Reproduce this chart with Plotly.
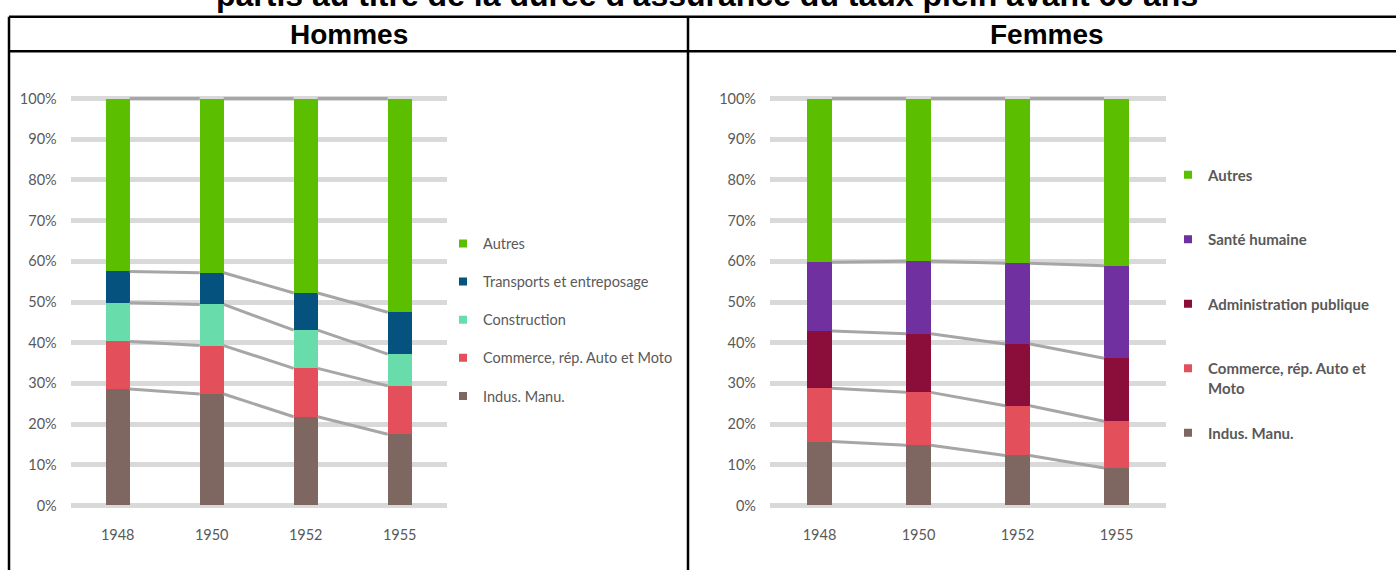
import plotly.graph_objects as go

W, H = 1396, 574

years = ["1948", "1950", "1952", "1955"]

# Hommes (share in %)
h_indus = [28.6, 27.4, 21.8, 17.5]
h_commerce = [11.7, 11.9, 11.9, 11.9]
h_construction = [9.5, 10.1, 9.4, 7.8]
h_transports = [7.7, 7.8, 9.1, 10.3]
h_autres = [42.5, 42.8, 47.8, 52.5]

# Femmes (share in %)
f_indus = [15.7, 14.8, 12.3, 9.2]
f_commerce = [13.1, 13.0, 12.2, 11.5]
f_admin = [14.1, 14.4, 15.2, 15.5]
f_sante = [16.9, 17.8, 19.8, 22.7]
f_autres = [40.2, 40.0, 40.5, 41.1]

C_AUTRES = "#5BBF00"
C_TRANSP = "#05527F"
C_CONSTR = "#69DCAC"
C_COMM = "#E34F5B"
C_INDUS = "#7F6761"
C_SANTE = "#7030A0"
C_ADMIN = "#8B0E3A"
C_CONN = "#A6A6A6"
C_GRID = "#D9D9D9"
C_TXT = "#595959"

def px_x(x):
    return x / W

def px_y(y):
    return 1 - y / H

fig = go.Figure()

xs = list(range(len(years)))

def add_panel(series, xa, ya, legend, bw):
    # series: list of (name, values, color, legendname) bottom->top
    cum = [0.0] * len(xs)
    tops = []
    for name, vals, color, lname in series:
        fig.add_trace(go.Bar(
            x=xs, y=vals, name=lname, marker=dict(color=color, line=dict(width=0)),
            width=bw, xaxis=xa, yaxis=ya, showlegend=False, hoverinfo="skip"))
        cum = [c + v for c, v in zip(cum, vals)]
        tops.append(list(cum))
    # connector lines
    for top in tops:
        lx, ly = [], []
        for i in range(len(xs) - 1):
            lx += [xs[i] + bw / 2, xs[i + 1] - bw / 2, None]
            ly += [top[i], top[i + 1], None]
        fig.add_trace(go.Scatter(x=lx, y=ly, mode="lines", line=dict(color=C_CONN, width=3),
                                 xaxis=xa, yaxis=ya, showlegend=False, hoverinfo="skip"))
    # legend entries (top -> bottom order)
    for name, vals, color, lname in reversed(series):
        lg = legend(name)
        fig.add_trace(go.Scatter(x=[None], y=[None], mode="markers", name=lname,
                                 marker=dict(symbol="square", size=8, color=color),
                                 xaxis=xa, yaxis=ya, legend=lg, legendgroup=lg + name,
                                 showlegend=True))

hommes = [
    ("indus", h_indus, C_INDUS, "Indus. Manu."),
    ("commerce", h_commerce, C_COMM, "Commerce, rép. Auto et Moto"),
    ("construction", h_construction, C_CONSTR, "Construction"),
    ("transports", h_transports, C_TRANSP, "Transports et entreposage"),
    ("autres", h_autres, C_AUTRES, "Autres"),
]
femmes = [
    ("indus", f_indus, C_INDUS, "Indus. Manu."),
    ("commerce", f_commerce, C_COMM, "Commerce, rép. Auto et<br>Moto"),
    ("admin", f_admin, C_ADMIN, "Administration publique"),
    ("sante", f_sante, C_SANTE, "Santé humaine"),
    ("autres", f_autres, C_AUTRES, "Autres"),
]

add_panel(hommes, "x", "y", lambda n: "legend", 0.255)
add_panel(femmes, "x2", "y2", lambda n: "legend3" if n == "indus" else "legend2", 0.25)

ydom = [px_y(512.6), px_y(90.9)]
tickfont = dict(family="Lato, 'Liberation Sans Narrow', sans-serif", size=14.5, color=C_TXT)

yax = dict(range=[-1, 101], dtick=10, ticksuffix="%", showgrid=True, gridcolor=C_GRID,
           gridwidth=4.5, zeroline=False, showline=False, ticks="", tickfont=tickfont,
           ticklabelstandoff=13, domain=ydom, fixedrange=True)
xax_common = dict(range=[-0.5, 3.5], tickvals=xs, ticktext=years, showgrid=False,
                  zeroline=False, showline=False, ticks="", tickfont=tickfont,
                  ticklabelstandoff=15, fixedrange=True)

fig.update_layout(
    width=W, height=H,
    margin=dict(l=0, r=0, t=0, b=0),
    paper_bgcolor="white", plot_bgcolor="white",
    barmode="stack",
    showlegend=True,
    xaxis=dict(domain=[px_x(70.7), px_x(446.7)], anchor="y", **xax_common),
    xaxis2=dict(domain=[px_x(770), px_x(1166)], anchor="y2", **xax_common),
    yaxis=dict(anchor="x", **yax),
    yaxis2=dict(anchor="x2", **yax),
    legend=dict(x=px_x(443), y=px_y(226), xanchor="left", yanchor="top",
                traceorder="grouped", tracegroupgap=16.3, bgcolor="rgba(0,0,0,0)",
                font=dict(family="Lato, sans-serif", size=14.5, color=C_TXT)),
    legend2=dict(x=px_x(1168), y=px_y(156), xanchor="left", yanchor="top",
                 traceorder="grouped", tracegroupgap=42, valign="top", bgcolor="rgba(0,0,0,0)",
                 font=dict(family="Lato, sans-serif", size=15, color=C_TXT, weight="bold")),
    legend3=dict(x=px_x(1168), y=px_y(418), xanchor="left", yanchor="top",
                 bgcolor="rgba(0,0,0,0)",
                 font=dict(family="Lato, sans-serif", size=15, color=C_TXT, weight="bold")),
)

# table frame
line = dict(color="black", width=2.5)
shapes = [
    dict(type="line", xref="paper", yref="paper", x0=px_x(9), x1=1, y0=px_y(12), y1=px_y(12), line=line),
    dict(type="line", xref="paper", yref="paper", x0=px_x(9), x1=1, y0=px_y(47), y1=px_y(47), line=line),
    dict(type="line", xref="paper", yref="paper", x0=px_x(9), x1=px_x(9), y0=px_y(12), y1=0, line=line),
    dict(type="line", xref="paper", yref="paper", x0=px_x(688), x1=px_x(688), y0=px_y(12), y1=0, line=line),
]
fig.update_layout(shapes=shapes)

hfont = dict(family="'Liberation Sans', Arial, sans-serif", size=28, color="black")
fig.add_annotation(text="<b>Hommes</b>", x=px_x(348.5), y=px_y(29.5), xref="paper", yref="paper",
                   showarrow=False, xanchor="center", yanchor="middle", font=hfont)
fig.add_annotation(text="<b>Femmes</b>", x=px_x(1047), y=px_y(29.5), xref="paper", yref="paper",
                   showarrow=False, xanchor="center", yanchor="middle", font=hfont)
fig.add_annotation(text="<b>partis au titre de la durée d'assurance du taux plein avant 60 ans</b>",
                   x=px_x(707), y=px_y(10), xref="paper", yref="paper", showarrow=False,
                   xanchor="center", yanchor="bottom",
                   font=dict(family="'Liberation Sans', Arial, sans-serif", size=32, color="black"))

fig.write_html("out.html")
